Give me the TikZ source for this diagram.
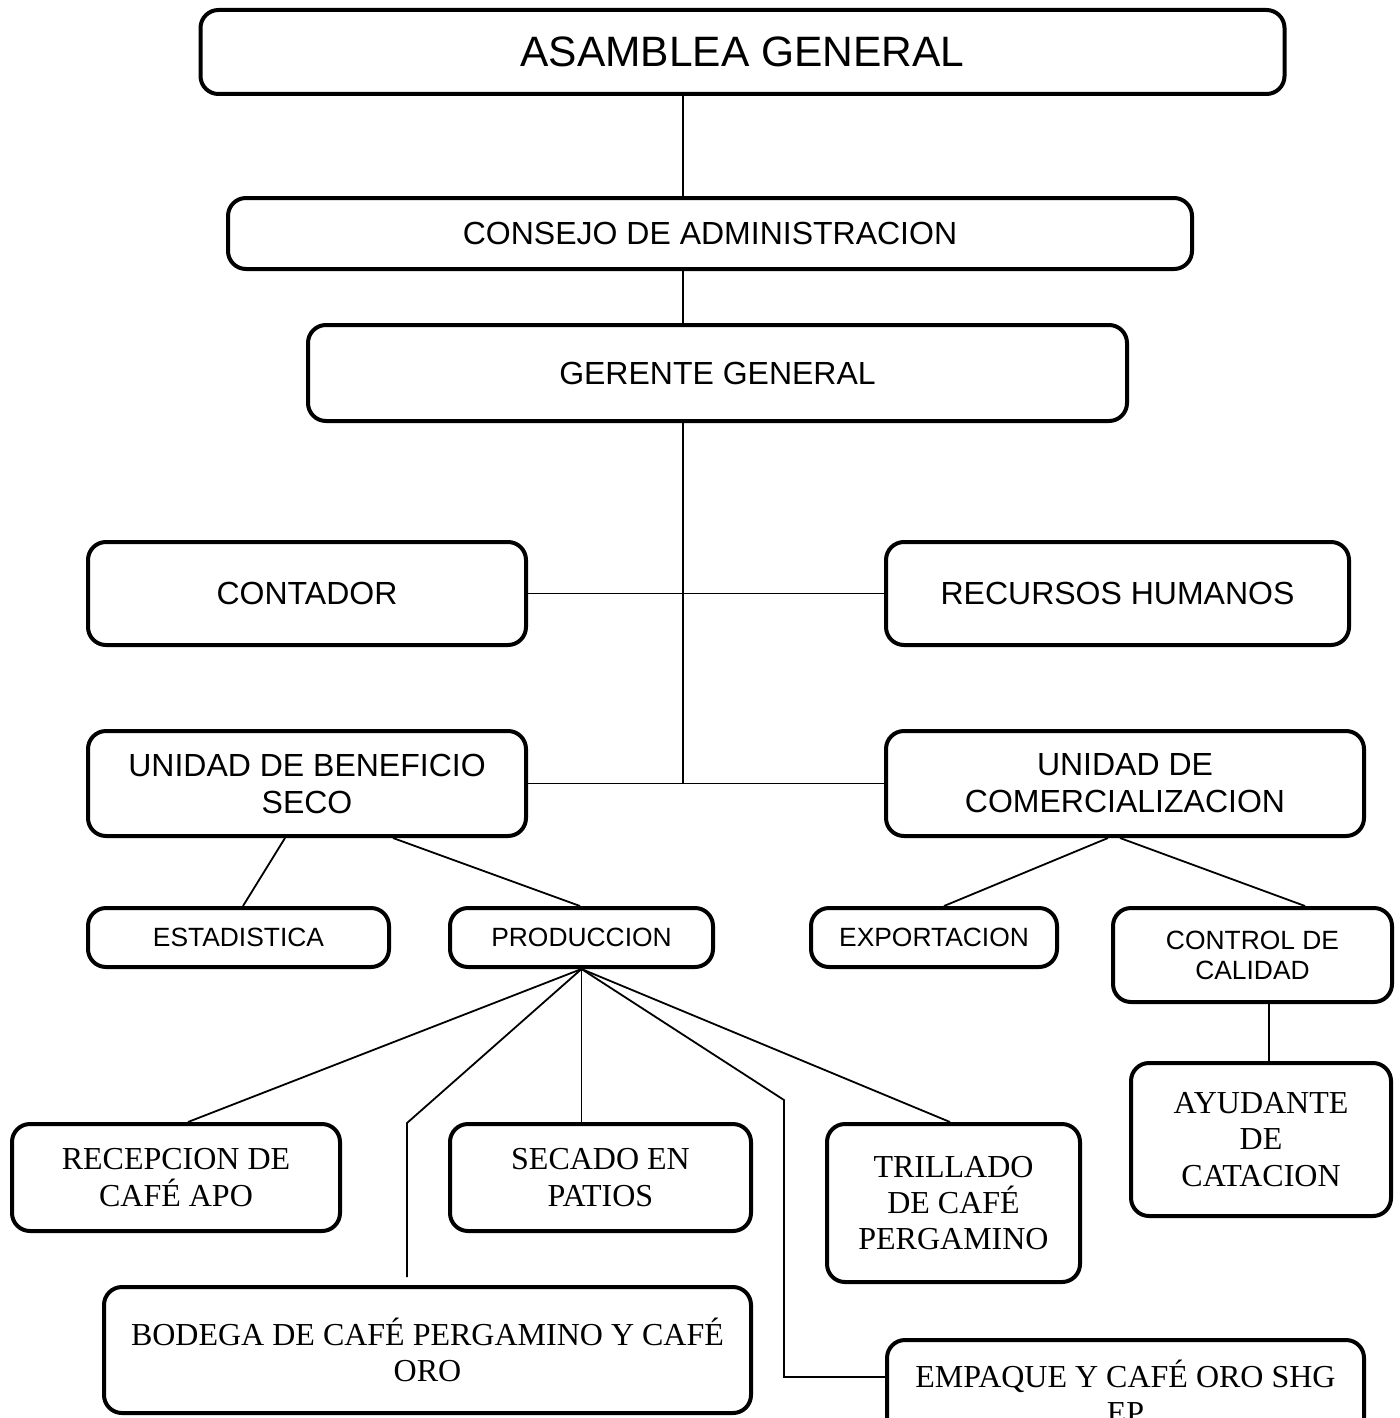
\documentclass[tikz,border=0pt]{standalone}
\usepackage{fontspec}
\setmainfont{Liberation Serif}
\newfontfamily\arialf{Liberation Sans}
\usetikzlibrary{calc}
\tikzset{
  box/.style={draw, rounded corners=9pt, line width=2pt, align=center, inner sep=0pt},
  big/.style={font=\arialf\fontsize{21.25}{24}\selectfont},
  mid/.style={font=\arialf\fontsize{16}{18.5}\selectfont},
  small/.style={font=\arialf\fontsize{13.2}{15}\selectfont},
  serif/.style={font=\fontsize{16}{18.2}\selectfont},
  conn/.style={line width=0.9pt},
}
\newcommand{\bx}[6]{\node[box,#1,minimum width={(#4-4)*0.5pt},minimum height={(#5-4)*0.5pt}] (#6) at (#2,#3) {#6text};}
\begin{document}
\begin{tikzpicture}[x=0.5pt,y=-0.5pt]
\useasboundingbox (0,0) rectangle (1400,1418);
\clip (0,0) rectangle (1400,1418);
\node[box,big,minimum width=542pt,minimum height=42pt] (asamblea) at (742.5,52) {ASAMBLEA GENERAL};
\node[box,mid,minimum width=482pt,minimum height=35.5pt] (consejo) at (710,233.5) {CONSEJO DE ADMINISTRACION};
\node[box,mid,minimum width=409.5pt,minimum height=48pt] (gerente) at (717.5,373) {GERENTE GENERAL};
\node[box,mid,minimum width=219pt,minimum height=51.5pt] (contador) at (307,593.5) {CONTADOR};
\node[box,mid,minimum width=231.5pt,minimum height=51.5pt] (rrhh) at (1117.5,593.5) {RECURSOS HUMANOS};
\node[box,mid,minimum width=219pt,minimum height=52.5pt] (ubs) at (307,783.5) {UNIDAD DE BENEFICIO\\SECO};
\node[box,mid,minimum width=239pt,minimum height=52.5pt] (uc) at (1125,783.5) {UNIDAD DE\\COMERCIALIZACION};
\node[box,small,minimum width=150.5pt,minimum height=29.5pt] (estad) at (238.5,937.5) {ESTADISTICA};
\node[box,small,minimum width=131.5pt,minimum height=29.5pt] (produc) at (581.5,937.5) {PRODUCCION};
\node[box,small,minimum width=123pt,minimum height=29.5pt] (export) at (934,937.5) {EXPORTACION};
\node[box,small,minimum width=139.5pt,minimum height=47pt] (control) at (1252.5,955) {CONTROL DE\\CALIDAD};
\node[box,serif,minimum width=130pt,minimum height=76.5pt] (ayudante) at (1261,1139.5) {AYUDANTE\\DE\\CATACION};
\node[box,serif,minimum width=164pt,minimum height=53.5pt] (recep) at (176,1177.5) {RECEPCION DE\\CAFÉ APO};
\node[box,serif,minimum width=150.5pt,minimum height=53.5pt] (secado) at (600.5,1177.5) {SECADO EN\\PATIOS};
\node[box,serif,minimum width=126.5pt,minimum height=79pt] (trillado) at (953.5,1203) {TRILLADO\\DE CAFÉ\\PERGAMINO};
\node[box,serif,minimum width=323.5pt,minimum height=63pt] (bodega) at (427.5,1350) {BODEGA DE CAFÉ PERGAMINO Y CAFÉ\\ORO};
\node[box,serif,minimum width=238.5pt,minimum height=52pt] (empaque) at (1125.5,1392) {EMPAQUE Y CAFÉ ORO SHG\\EP};
% spine
\coordinate (sp) at (683,0);
\coordinate (bodegaend) at (407,1277);
\draw[conn] (asamblea.south -| sp) -- (consejo.north -| sp);
\draw[conn] (consejo.south -| sp) -- (gerente.north -| sp);
\draw[conn] (gerente.south -| sp) -- (ubs.east -| sp);
\draw[conn] (contador.east) -- (rrhh.west);
\draw[conn] (ubs.east) -- (uc.west);
\draw[conn] (ubs.south -| 285,0) -- (estad.north -| 243,0);
\draw[conn] (ubs.south -| 393,0) -- (produc.north -| 580,0);
\draw[conn] (uc.south -| 1108,0) -- (export.north -| 944,0);
\draw[conn] (uc.south -| 1120,0) -- (control.north -| 1305,0);
\draw[conn] (control.south -| 1269,0) -- (ayudante.north -| 1269,0);
\draw[conn] (produc.south) -- (recep.north -| 188,0);
\draw[conn] (produc.south) -- (407,1123) -- (bodegaend);
\draw[conn] (produc.south) -- (produc.south |- secado.north);
\draw[conn] (produc.south) -- (784,1100) -- (784,1377) -- (empaque.west |- 0,1377);
\draw[conn] (produc.south) -- (trillado.north -| 950,0);
\end{tikzpicture}
\end{document}
